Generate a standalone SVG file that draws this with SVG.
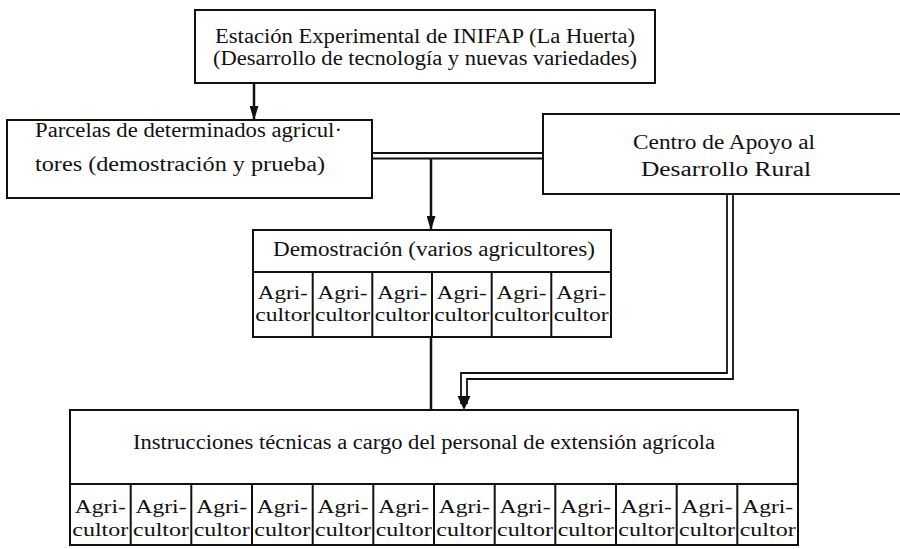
<svg xmlns="http://www.w3.org/2000/svg" width="900" height="549" viewBox="0 0 900 549">
<style>
.box{fill:#fff;stroke:#111;stroke-width:2}
.sep{fill:none;stroke:#111;stroke-width:2}
.ln{fill:none;stroke:#111;stroke-width:2.5}
.dl{fill:none;stroke:#111;stroke-width:1.8}
.ah{fill:#111}
.t{font-family:"Liberation Serif","Times New Roman",serif;font-size:20px;fill:#111}
.m{text-anchor:middle}
.c{font-family:"Liberation Serif","Times New Roman",serif;font-size:19px;fill:#111;text-anchor:middle}
</style>
<defs>
<marker id="arr" viewBox="0 0 14 9" refX="14" refY="4.5" markerWidth="14" markerHeight="9" markerUnits="userSpaceOnUse" orient="auto">
<path d="M0,0 L14,4.5 L0,9 z" fill="#111"/>
</marker>
</defs>
<rect width="900" height="549" fill="#fff"/>

<g id="connectors">
<path class="ln" d="M254,83 V120" marker-end="url(#arr)"/>
<path class="dl" d="M372,153 H543"/>
<path class="dl" d="M372,158.5 H543"/>
<path class="ln" d="M431,158 V230" marker-end="url(#arr)"/>
<path class="ln" d="M431,337 V410"/>
<path class="dl" d="M727,194 V373 H461 V404"/>
<path class="dl" d="M733,194 V379 H467 V404"/>
<polygon class="ah" points="457.5,396 470.5,396 464,410"/>
</g>

<g id="node-inifap">
<rect class="box" x="195" y="10" width="460" height="73"/>
<text class="t m" x="425" y="43" textLength="420" lengthAdjust="spacingAndGlyphs">Estación Experimental de INIFAP (La Huerta)</text>
<text class="t m" x="425" y="65" textLength="424" lengthAdjust="spacingAndGlyphs">(Desarrollo de tecnología y nuevas variedades)</text>
</g>

<g id="node-parcelas">
<rect class="box" x="7" y="120" width="365" height="78"/>
<text class="t" x="35" y="137" textLength="307" lengthAdjust="spacingAndGlyphs">Parcelas de determinados agricul·</text>
<text class="t" x="35" y="171" textLength="290" lengthAdjust="spacingAndGlyphs">tores (demostración y prueba)</text>
</g>

<g id="node-centro">
<rect class="box" x="543" y="114" width="400" height="80"/>
<text class="t m" x="724" y="149" textLength="182" lengthAdjust="spacingAndGlyphs">Centro de Apoyo al</text>
<text class="t m" x="726" y="176" textLength="170" lengthAdjust="spacingAndGlyphs">Desarrollo Rural</text>
</g>

<g id="node-demostracion">
<rect class="box" x="253" y="230" width="358" height="107"/>
<path class="sep" d="M253,272 H611 M312.7,272 V337 M372.3,272 V337 M432,272 V337 M491.7,272 V337 M551.3,272 V337"/>
<text class="t m" x="434" y="256" textLength="322" lengthAdjust="spacingAndGlyphs">Demostración (varios agricultores)</text>
<g class="c">
<text x="282.8" y="299" textLength="50" lengthAdjust="spacingAndGlyphs">Agri-</text>
<text x="342.5" y="299" textLength="50" lengthAdjust="spacingAndGlyphs">Agri-</text>
<text x="402.2" y="299" textLength="50" lengthAdjust="spacingAndGlyphs">Agri-</text>
<text x="461.8" y="299" textLength="50" lengthAdjust="spacingAndGlyphs">Agri-</text>
<text x="521.5" y="299" textLength="50" lengthAdjust="spacingAndGlyphs">Agri-</text>
<text x="581.2" y="299" textLength="50" lengthAdjust="spacingAndGlyphs">Agri-</text>
<text x="282.8" y="321" textLength="55" lengthAdjust="spacingAndGlyphs">cultor</text>
<text x="342.5" y="321" textLength="55" lengthAdjust="spacingAndGlyphs">cultor</text>
<text x="402.2" y="321" textLength="55" lengthAdjust="spacingAndGlyphs">cultor</text>
<text x="461.8" y="321" textLength="55" lengthAdjust="spacingAndGlyphs">cultor</text>
<text x="521.5" y="321" textLength="55" lengthAdjust="spacingAndGlyphs">cultor</text>
<text x="581.2" y="321" textLength="55" lengthAdjust="spacingAndGlyphs">cultor</text>
</g>
</g>

<g id="node-instrucciones">
<rect class="box" x="70" y="410" width="728" height="135"/>
<path class="sep" d="M70,484 H798 M130.7,484 V545 M191.3,484 V545 M252,484 V545 M312.7,484 V545 M373.3,484 V545 M434,484 V545 M494.7,484 V545 M555.3,484 V545 M616,484 V545 M676.7,484 V545 M737.3,484 V545"/>
<text class="t" x="133" y="449" textLength="582" lengthAdjust="spacingAndGlyphs">Instrucciones técnicas a cargo del personal de extensión agrícola</text>
<g class="c">
<text x="100.3" y="513" textLength="51" lengthAdjust="spacingAndGlyphs">Agri-</text>
<text x="161" y="513" textLength="51" lengthAdjust="spacingAndGlyphs">Agri-</text>
<text x="221.7" y="513" textLength="51" lengthAdjust="spacingAndGlyphs">Agri-</text>
<text x="282.3" y="513" textLength="51" lengthAdjust="spacingAndGlyphs">Agri-</text>
<text x="343" y="513" textLength="51" lengthAdjust="spacingAndGlyphs">Agri-</text>
<text x="403.7" y="513" textLength="51" lengthAdjust="spacingAndGlyphs">Agri-</text>
<text x="464.3" y="513" textLength="51" lengthAdjust="spacingAndGlyphs">Agri-</text>
<text x="525" y="513" textLength="51" lengthAdjust="spacingAndGlyphs">Agri-</text>
<text x="585.7" y="513" textLength="51" lengthAdjust="spacingAndGlyphs">Agri-</text>
<text x="646.3" y="513" textLength="51" lengthAdjust="spacingAndGlyphs">Agri-</text>
<text x="707" y="513" textLength="51" lengthAdjust="spacingAndGlyphs">Agri-</text>
<text x="767.7" y="513" textLength="51" lengthAdjust="spacingAndGlyphs">Agri-</text>
<text x="100.3" y="536" textLength="56" lengthAdjust="spacingAndGlyphs">cultor</text>
<text x="161" y="536" textLength="56" lengthAdjust="spacingAndGlyphs">cultor</text>
<text x="221.7" y="536" textLength="56" lengthAdjust="spacingAndGlyphs">cultor</text>
<text x="282.3" y="536" textLength="56" lengthAdjust="spacingAndGlyphs">cultor</text>
<text x="343" y="536" textLength="56" lengthAdjust="spacingAndGlyphs">cultor</text>
<text x="403.7" y="536" textLength="56" lengthAdjust="spacingAndGlyphs">cultor</text>
<text x="464.3" y="536" textLength="56" lengthAdjust="spacingAndGlyphs">cultor</text>
<text x="525" y="536" textLength="56" lengthAdjust="spacingAndGlyphs">cultor</text>
<text x="585.7" y="536" textLength="56" lengthAdjust="spacingAndGlyphs">cultor</text>
<text x="646.3" y="536" textLength="56" lengthAdjust="spacingAndGlyphs">cultor</text>
<text x="707" y="536" textLength="56" lengthAdjust="spacingAndGlyphs">cultor</text>
<text x="767.7" y="536" textLength="56" lengthAdjust="spacingAndGlyphs">cultor</text>
</g>
</g>
</svg>
